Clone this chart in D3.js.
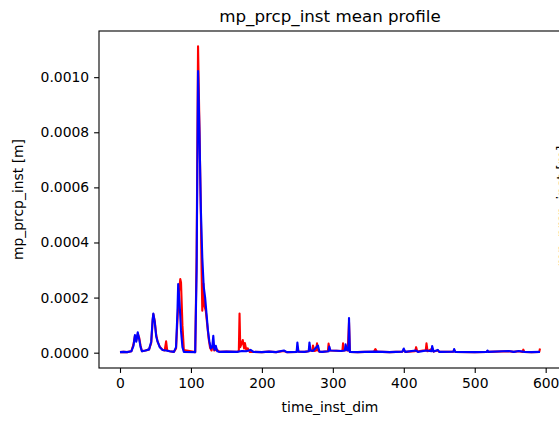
<!DOCTYPE html>
<html>
<head>
<meta charset="utf-8">
<script src="https://cdn.jsdelivr.net/npm/d3@7/dist/d3.min.js"></script>
<style>
  html, body { margin: 0; padding: 0; background: #fff; }
  svg { display: block; font-family: "DejaVu Sans", sans-serif; }
</style>
</head>
<body>
<div id="chart"></div>
<script>
const chartTitle = "mp_prcp_inst mean profile";
const xLabel = "time_inst_dim";
const yLabel = "mp_prcp_inst [m]";
const xTicks = [0, 100, 200, 300, 400, 500, 600];
const yTicks = [0, 0.0002, 0.0004, 0.0006, 0.0008, 0.0010];

// blue series (time index, value)
const blueTime = [0, 5, 10, 16, 19, 21, 23, 25, 27, 29, 31, 36, 41, 44, 46, 47, 49, 51, 53, 56, 60, 65, 70, 76, 79, 81, 82, 84, 86, 88, 90,
  106, 108, 110, 112, 114, 116, 118, 120, 122, 124, 126, 128, 130, 131.5, 133, 135, 137, 140,
  150, 165, 172, 178, 184, 188, 200, 210, 220, 231, 235, 249, 250, 251.5, 260, 266, 267, 268.5, 272, 279, 281, 285,
  294, 295, 296.5, 305, 312, 317, 318, 320, 322, 322.8, 324, 335, 345, 360, 370, 380, 398, 400, 402, 417, 420,
  432, 439, 440, 442, 448, 450, 470, 471, 472.5, 500, 517, 518, 519, 548, 555, 562, 570, 580, 592];
const blueVal = [2e-6, 3e-6, 2e-6, 5e-6, 2.5e-5, 6.4e-5, 4e-5, 7.4e-5, 5e-5, 2e-5, 5e-6, 8e-6, 1.2e-5, 4e-5, 1.2e-4, 1.42e-4, 1.1e-4, 6e-5, 4e-5, 2e-5, 1e-5, 8e-6, 5e-6, 3e-6, 2e-5, 1.5e-4, 2.49e-4, 1.8e-4, 8e-5, 2e-5, 3e-6,
  2e-6, 3e-4, 1.022e-3, 8e-4, 5.2e-4, 3.45e-4, 2.4e-4, 2.0e-4, 1.4e-4, 8e-5, 4e-5, 1.5e-5, 2e-5, 6.1e-5, 1e-5, 2.5e-5, 5e-6, 3e-6,
  4e-6, 3e-6, 6e-6, 5e-6, 1e-5, 3e-6, 2e-6, 4e-6, 2e-6, 8e-6, 2e-6, 3e-6, 3.7e-5, 4e-6, 3e-6, 5e-6, 3.7e-5, 8e-6, 6e-6, 2.6e-5, 4e-6, 3e-6,
  5e-6, 2.2e-5, 8e-6, 7e-6, 6e-6, 8e-6, 3e-5, 1e-5, 8e-6, 1.26e-4, 3e-6, 2e-6, 3e-6, 4e-6, 3e-6, 2e-6, 4e-6, 1.5e-5, 3e-6, 8e-6, 3e-6,
  8e-6, 5e-6, 2.4e-5, 4e-6, 1e-5, 3e-6, 4e-6, 1.3e-5, 3e-6, 2e-6, 3e-6, 8e-6, 3e-6, 6e-6, 3e-6, 6e-6, 3e-6, 2e-6, 3e-6];

// red series (time index, value)
const redTime = [0, 5, 10, 16, 19, 21, 23, 25, 27, 29, 31, 36, 41, 44, 46, 47, 49, 51, 53, 56, 60, 63, 65, 66.5, 70, 76, 79, 81, 83, 85, 86, 88, 90,
  106, 108, 110, 112, 114, 115, 116, 117.6, 119, 121, 123, 125, 127, 129, 131.5, 133, 136, 140,
  150, 165, 167.5, 168.5, 169.5, 171, 173, 175, 176, 178, 180, 183, 188, 200, 210, 220, 231, 235, 249, 250, 251.5, 260, 266, 267, 268.5,
  271, 272, 274, 276.5, 277.7, 279, 281, 285, 293, 294, 295.5, 305, 312, 313.5, 314.4, 315.5, 318, 321, 322.8, 324, 335, 345,
  358, 360, 362, 370, 380, 398, 400, 402, 416, 417.4, 419, 427, 431, 432, 433.5, 440, 442, 448, 450, 470, 471, 472.5, 500, 517, 518, 519,
  548, 555, 562, 567.5, 568.5, 570, 580, 591, 592];
const redVal = [2e-6, 3e-6, 2e-6, 5e-6, 3e-5, 6e-5, 4.5e-5, 6.8e-5, 5.5e-5, 2.5e-5, 5e-6, 8e-6, 1.2e-5, 3.5e-5, 1.15e-4, 1.4e-4, 1.15e-4, 6.5e-5, 4e-5, 2.2e-5, 1e-5, 8e-6, 4.1e-5, 8e-6, 5e-6, 3e-6, 1.5e-5, 1.2e-4, 2.2e-4, 2.67e-4, 2.55e-4, 1e-4, 1e-5,
  2e-6, 3.5e-4, 1.112e-3, 8.2e-4, 5e-4, 3e-4, 1.52e-4, 2.5e-4, 1.7e-4, 1.5e-4, 1e-4, 5e-5, 1.8e-5, 8e-6, 3e-5, 8e-6, 1.2e-5, 3e-6,
  4e-6, 3e-6, 6e-6, 1.42e-4, 2e-5, 3e-5, 4.6e-5, 1.5e-5, 3.5e-5, 1e-5, 1.6e-5, 3e-6, 3e-6, 2e-6, 4e-6, 2e-6, 6e-6, 2e-6, 3e-6, 2e-5, 4e-6, 3e-6, 5e-6, 2e-5, 8e-6,
  6e-6, 2.6e-5, 6e-6, 8e-6, 3.4e-5, 8e-6, 4e-6, 3e-6, 5e-6, 3.3e-5, 8e-6, 7e-6, 6e-6, 8e-6, 3.4e-5, 8e-6, 1e-5, 8e-6, 1.1e-4, 3e-6, 2e-6, 3e-6,
  4e-6, 1.3e-5, 4e-6, 3e-6, 2e-6, 4e-6, 1e-5, 3e-6, 5e-6, 2e-5, 4e-6, 8e-6, 8e-6, 3.4e-5, 5e-6, 1.5e-5, 4e-6, 8e-6, 3e-6, 4e-6, 1e-5, 3e-6, 2e-6, 3e-6, 6e-6, 3e-6,
  5e-6, 3e-6, 5e-6, 3e-6, 1.1e-5, 3e-6, 2e-6, 3e-6, 1.5e-5];

const W = 559, H = 425;
const m = { left: 99, top: 31, right: 561, bottom: 368 };

const svg = d3.select("#chart").append("svg")
  .attr("width", W).attr("height", H);

const xMax = 592;
const yMaxData = 0.001112;
const x = d3.scaleLinear()
  .domain([-0.05 * xMax, xMax * 1.05])
  .range([m.left, m.right]);
const y = d3.scaleLinear()
  .domain([-0.05 * yMaxData, yMaxData * 1.05])
  .range([m.bottom, m.top]);

svg.append("defs").append("clipPath").attr("id", "clip")
  .append("rect").attr("x", m.left).attr("y", m.top)
  .attr("width", m.right - m.left).attr("height", m.bottom - m.top);

const line = d3.line().x(d => x(d[0])).y(d => y(d[1]));
const redData = redTime.map((t, i) => [t, redVal[i]]);
const blueData = blueTime.map((t, i) => [t, blueVal[i]]);

const plot = svg.append("g").attr("clip-path", "url(#clip)");
plot.append("path").datum(redData).attr("d", line)
  .attr("fill", "none").attr("stroke", "#ff0000").attr("stroke-width", 2.1)
  .attr("stroke-linejoin", "round");
plot.append("path").datum(blueData).attr("d", line)
  .attr("fill", "none").attr("stroke", "#0000ff").attr("stroke-width", 2.1)
  .attr("stroke-linejoin", "round");

// axes
const fs = "13.9px";
const xAxis = svg.append("g").attr("transform", `translate(0,${m.bottom})`)
  .call(d3.axisBottom(x).tickValues(xTicks).tickFormat(d3.format("d")).tickSize(4.9).tickPadding(4.9));
const yAxis = svg.append("g").attr("transform", `translate(${m.left},0)`)
  .call(d3.axisLeft(y).tickValues(yTicks).tickFormat(d3.format(".4f")).tickSize(4.9).tickPadding(4.9));
[xAxis, yAxis].forEach(a => {
  a.select(".domain").remove();
  a.selectAll(".tick line").attr("stroke", "#000").attr("stroke-width", 1.1);
  a.selectAll(".tick text").attr("fill", "#000").style("font-size", fs)
    .style("font-family", "'DejaVu Sans', sans-serif");
});

// spines
svg.append("rect").attr("x", m.left).attr("y", m.top)
  .attr("width", m.right - m.left).attr("height", m.bottom - m.top)
  .attr("fill", "none").attr("stroke", "#000").attr("stroke-width", 1.1);

// labels
svg.append("text").attr("x", (m.left + m.right) / 2).attr("y", 22)
  .attr("text-anchor", "middle").style("font-size", "16.7px").attr("fill", "#000")
  .text(chartTitle);
svg.append("text").attr("x", (m.left + m.right) / 2).attr("y", 412)
  .attr("text-anchor", "middle").style("font-size", fs).attr("fill", "#000")
  .text(xLabel);
svg.append("text").attr("transform", `translate(23,${(m.top + m.bottom) / 2}) rotate(-90)`)
  .attr("text-anchor", "middle").style("font-size", fs).attr("fill", "#000")
  .text(yLabel);
// clipped label of the neighbouring panel at the right edge
svg.append("text").attr("transform", `translate(567,206) rotate(-90)`)
  .attr("text-anchor", "middle").style("font-size", fs).attr("fill", "#000")
  .text(yLabel);
</script>
</body>
</html>
